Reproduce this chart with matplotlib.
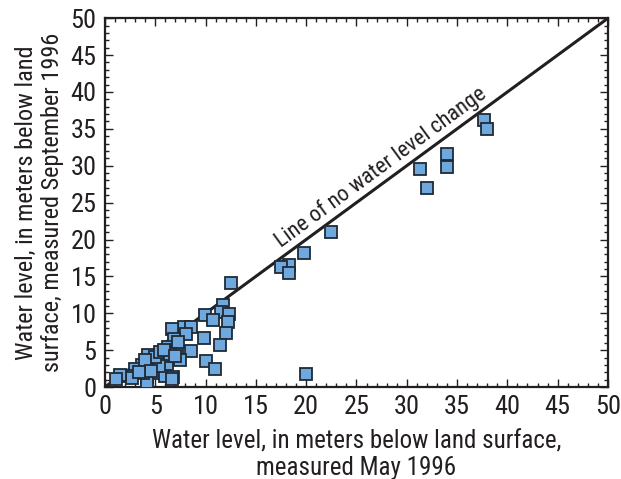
import matplotlib
matplotlib.use("Agg")
import matplotlib.pyplot as plt
from matplotlib import font_manager
from matplotlib.ticker import MultipleLocator

available = {f.name for f in font_manager.fontManager.ttflist}
narrow = sorted(n for n in available if ('Narrow' in n or 'Condensed' in n or 'Cond' in n))
preferred = ['Liberation Sans Narrow', 'Roboto Condensed', 'Open Sans Condensed',
             'Noto Sans Condensed', 'DejaVu Sans Condensed'] + narrow
chosen = next((p for p in preferred if p in available), 'Roboto')
plt.rcParams['font.family'] = [chosen, 'DejaVu Sans']

may_1996 = [37.7, 38.0, 34.0, 34.0, 31.3, 32.0, 22.5, 19.8, 18.3, 17.5, 18.3, 20.0,
            12.5, 11.7, 11.5, 12.3, 12.2, 12.0, 11.4, 9.9, 10.7, 9.8, 10.0, 10.9,
            7.9, 8.6, 6.7, 8.1, 6.9, 6.3, 7.2, 8.6, 7.5, 5.7, 4.7, 4.3, 5.0, 3.7,
            3.0, 5.7, 6.2, 5.2, 6.0, 6.8, 6.7, 4.2, 4.2, 3.8, 2.3, 2.7, 1.5, 1.1,
            5.4, 5.0, 4.0, 5.5, 7.3, 6.5, 4.6, 3.4, 5.9, 7.0]
sep_1996 = [36.2, 35.0, 31.6, 29.8, 29.5, 27.0, 21.0, 18.2, 16.5, 16.3, 15.4, 1.8,
            14.1, 11.1, 10.2, 9.9, 8.8, 7.3, 5.7, 9.8, 9.1, 6.6, 3.5, 2.4,
            8.1, 8.1, 7.9, 7.2, 6.5, 5.4, 5.0, 4.9, 3.7, 4.3, 3.9, 4.3, 3.4, 3.0,
            2.4, 3.1, 2.6, 1.9, 1.5, 1.4, 1.1, 1.4, 0.7, 1.9, 1.5, 1.2, 1.6, 1.1,
            2.8, 4.1, 3.6, 4.7, 6.1, 4.5, 2.2, 2.0, 5.0, 4.2]

no_change = [0, 50]

fig = plt.figure(figsize=(6.21, 4.79), dpi=100)
ax = fig.add_axes([0.169, 0.192, 0.810, 0.770])

ax.plot(no_change, no_change, color='#231f20', lw=2.2, zorder=2)
ax.plot(may_1996, sep_1996, linestyle='none', marker='s', markersize=8.6,
        markerfacecolor='#6fa8dc', markeredgecolor='#1f2a36', markeredgewidth=1.3,
        zorder=3)

ax.text(28.1, 28.6, 'Line of no water level change', rotation=45,
        transform_rotates_text=True, rotation_mode='anchor',
        ha='center', va='bottom', fontsize=16, color='#231f20')

ax.set_xlim(0, 50)
ax.set_ylim(0, 50)
ax.xaxis.set_major_locator(MultipleLocator(5))
ax.yaxis.set_major_locator(MultipleLocator(5))
ax.xaxis.set_minor_locator(MultipleLocator(1))
ax.yaxis.set_minor_locator(MultipleLocator(1))
ax.tick_params(which='both', direction='in', top=True, right=True,
               color='#231f20', width=1.0)
ax.tick_params(which='major', length=6, labelsize=19, pad=6, labelcolor='#231f20')
ax.tick_params(which='minor', length=3)
for s in ax.spines.values():
    s.set_linewidth(1.6)
    s.set_color('#231f20')

ax.set_xlabel('Water level, in meters below land surface,\nmeasured May 1996',
              fontsize=18, color='#231f20', labelpad=7, linespacing=1.15)
ax.set_ylabel('Water level, in meters below land\nsurface, measured September 1996',
              fontsize=17.5, color='#231f20', labelpad=5, linespacing=1.15)

fig.savefig('out.png', dpi=100)
